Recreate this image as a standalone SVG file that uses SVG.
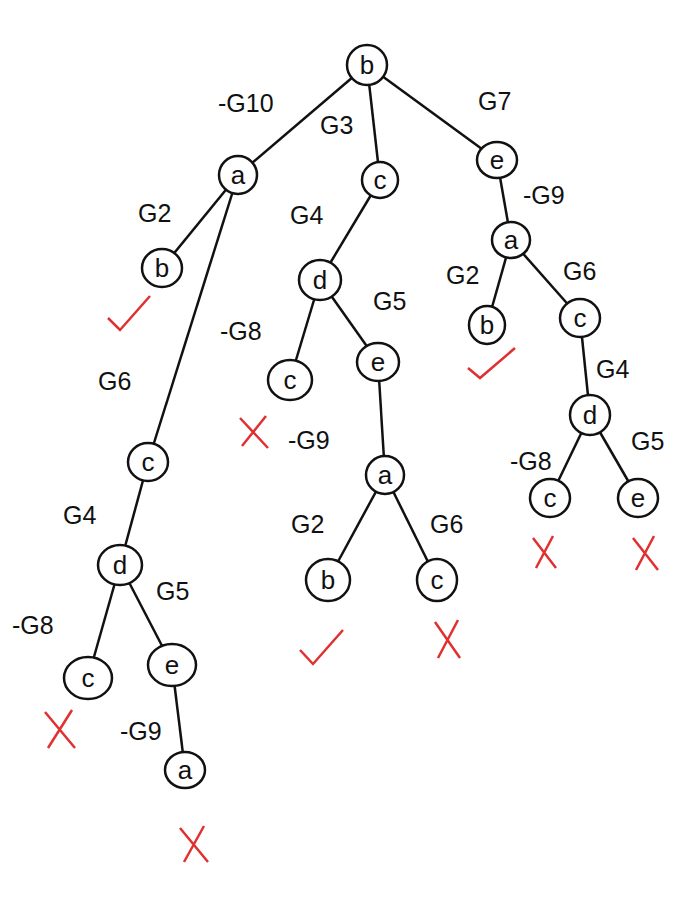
<svg xmlns="http://www.w3.org/2000/svg" width="690" height="902" viewBox="0 0 690 902">
<style>
.n ellipse{fill:#fff;stroke:#111;stroke-width:2.5}
.n text{font-family:"Liberation Sans",sans-serif;font-size:26px;text-anchor:middle;fill:#111}
.e line{stroke:#111;stroke-width:2.5}
.l{font-family:"Liberation Sans",sans-serif;font-size:25px;fill:#111}
.m{stroke:#e03030;stroke-width:2.5;fill:none}
</style>
<rect width="690" height="902" fill="#fff"/>
<g class="e">
<line x1="367" y1="65" x2="238" y2="175"/><line x1="367" y1="65" x2="380" y2="180"/><line x1="367" y1="65" x2="497" y2="160"/>
<line x1="238" y1="175" x2="162" y2="268"/><line x1="238" y1="175" x2="148" y2="462"/>
<line x1="380" y1="180" x2="320" y2="280"/>
<line x1="497" y1="160" x2="511" y2="240"/>
<line x1="320" y1="280" x2="290" y2="380"/><line x1="320" y1="280" x2="378" y2="362"/>
<line x1="511" y1="240" x2="487" y2="325"/><line x1="511" y1="240" x2="580" y2="318"/>
<line x1="580" y1="318" x2="590" y2="415"/>
<line x1="378" y1="362" x2="385" y2="475"/>
<line x1="385" y1="475" x2="328" y2="580"/><line x1="385" y1="475" x2="437" y2="580"/>
<line x1="590" y1="415" x2="550" y2="498"/><line x1="590" y1="415" x2="638" y2="498"/>
<line x1="148" y1="462" x2="120" y2="565"/>
<line x1="120" y1="565" x2="88" y2="678"/><line x1="120" y1="565" x2="172" y2="665"/>
<line x1="172" y1="665" x2="185" y2="770"/>
</g>
<g id="n1" class="n"><ellipse cx="367" cy="65" rx="20" ry="20"/><text x="367" y="74">b</text></g>
<g id="n2" class="n"><ellipse cx="238" cy="175" rx="19" ry="19"/><text x="238" y="184">a</text></g>
<g id="n3" class="n"><ellipse cx="380" cy="180" rx="18" ry="18"/><text x="380" y="189">c</text></g>
<g id="n4" class="n"><ellipse cx="497" cy="160" rx="20" ry="18"/><text x="497" y="169">e</text></g>
<g id="n5" class="n"><ellipse cx="162" cy="268" rx="20" ry="19"/><text x="162" y="277">b</text></g>
<g id="n6" class="n"><ellipse cx="320" cy="280" rx="21" ry="20"/><text x="320" y="289">d</text></g>
<g id="n7" class="n"><ellipse cx="511" cy="240" rx="19" ry="18"/><text x="511" y="249">a</text></g>
<g id="n8" class="n"><ellipse cx="290" cy="380" rx="22" ry="20"/><text x="290" y="389">c</text></g>
<g id="n9" class="n"><ellipse cx="378" cy="362" rx="21" ry="19"/><text x="378" y="371">e</text></g>
<g id="n10" class="n"><ellipse cx="487" cy="325" rx="18" ry="19"/><text x="487" y="334">b</text></g>
<g id="n11" class="n"><ellipse cx="580" cy="318" rx="20" ry="19"/><text x="580" y="327">c</text></g>
<g id="n12" class="n"><ellipse cx="385" cy="475" rx="19" ry="19"/><text x="385" y="484">a</text></g>
<g id="n13" class="n"><ellipse cx="590" cy="415" rx="20" ry="20"/><text x="590" y="424">d</text></g>
<g id="n14" class="n"><ellipse cx="148" cy="462" rx="20" ry="19"/><text x="148" y="471">c</text></g>
<g id="n15" class="n"><ellipse cx="120" cy="565" rx="22" ry="20"/><text x="120" y="574">d</text></g>
<g id="n16" class="n"><ellipse cx="328" cy="580" rx="22" ry="21"/><text x="328" y="589">b</text></g>
<g id="n17" class="n"><ellipse cx="437" cy="580" rx="20" ry="21"/><text x="437" y="589">c</text></g>
<g id="n18" class="n"><ellipse cx="550" cy="498" rx="20" ry="19"/><text x="550" y="507">c</text></g>
<g id="n19" class="n"><ellipse cx="638" cy="498" rx="20" ry="19"/><text x="638" y="507">e</text></g>
<g id="n20" class="n"><ellipse cx="88" cy="678" rx="24" ry="21"/><text x="88" y="687">c</text></g>
<g id="n21" class="n"><ellipse cx="172" cy="665" rx="24" ry="21"/><text x="172" y="674">e</text></g>
<g id="n22" class="n"><ellipse cx="185" cy="770" rx="20" ry="18"/><text x="185" y="779">a</text></g>
<g id="labels" class="l">
<text x="218" y="112">-G10</text><text x="320" y="134">G3</text><text x="478" y="110">G7</text>
<text x="138" y="222">G2</text><text x="523" y="204">-G9</text><text x="290" y="224">G4</text>
<text x="446" y="284">G2</text><text x="563" y="280">G6</text><text x="220" y="340">-G8</text>
<text x="373" y="310">G5</text><text x="98" y="390">G6</text><text x="596" y="378">G4</text>
<text x="288" y="449">-G9</text><text x="510" y="470">-G8</text><text x="631" y="450">G5</text>
<text x="63" y="524">G4</text><text x="291" y="533">G2</text><text x="430" y="533">G6</text>
<text x="156" y="600">G5</text><text x="12" y="634">-G8</text><text x="120" y="740">-G9</text>
</g>
<g id="marks">
<path class="m" d="M108 318 L120 330 L150 296"/>
<path class="m" d="M240 418 L268 448 M266 416 L242 446"/>
<path class="m" d="M468 368 L480 378 L515 348"/>
<path class="m" d="M45 712 L75 748 M72 710 L48 748"/>
<path class="m" d="M300 650 L313 664 L343 630"/>
<path class="m" d="M435 622 L460 658 M458 620 L438 658"/>
<path class="m" d="M533 538 L556 568 M553 536 L536 568"/>
<path class="m" d="M633 538 L658 570 M654 536 L636 570"/>
<path class="m" d="M180 828 L208 862 M204 826 L184 862"/>
</g>
</svg>
